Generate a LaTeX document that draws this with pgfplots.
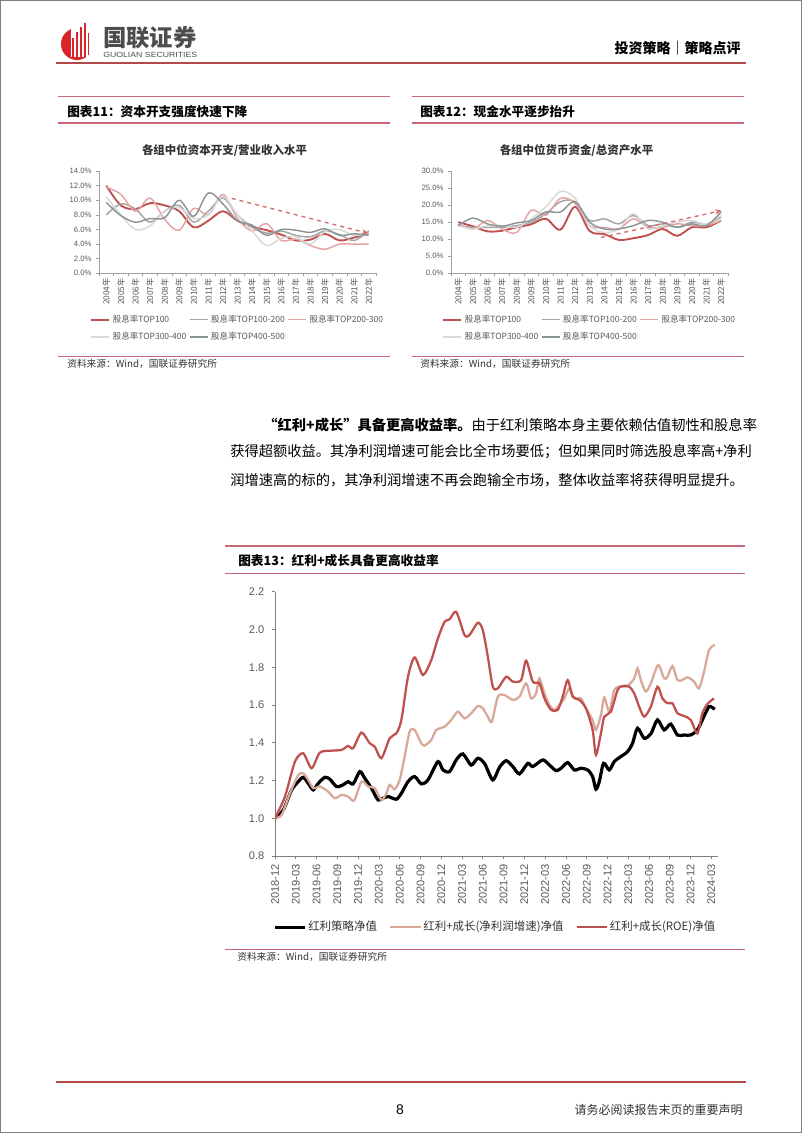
\documentclass[border=0pt]{standalone}
\usepackage{pgfplots}
\pgfplotsset{compat=1.18}
\usepackage{fontspec}
\setmainfont{Liberation Sans}
\newfontfamily\cjk{Noto Sans CJK SC}
\usetikzlibrary{arrows.meta}
\definecolor{hdrred}{HTML}{B5484B}
\definecolor{linepink}{HTML}{C86878}
\definecolor{bordergray}{HTML}{808080}
\definecolor{logored}{HTML}{D9262B}
\definecolor{logogray}{HTML}{4D4D4D}
\definecolor{txtgray}{HTML}{595959}
\definecolor{axgray}{HTML}{808080}
\definecolor{axlight}{HTML}{A0A0A0}
\definecolor{cred}{HTML}{C0504D}
\definecolor{ctan}{HTML}{D8A898}
\definecolor{sA}{HTML}{C0504D}
\definecolor{sB}{HTML}{A5A5A5}
\definecolor{sC}{HTML}{E6A3A3}
\definecolor{sD}{HTML}{D9D9D9}
\definecolor{sE}{HTML}{8C9696}
\definecolor{arr}{HTML}{D46A6A}
\pgfplotsset{smallchart/.style={
  scale only axis, width=207.75pt, height=76.7pt, anchor=south west,
  xmin=-0.5, xmax=18.5,
  axis lines=left, axis line style={-, draw=axlight, line width=0.6pt},
  tick align=outside, major tick length=2pt, minor tick length=2pt,
  tick style={draw=axlight, line width=0.5pt},
  xtick={0,...,18},
  xticklabels={2004年,2005年,2006年,2007年,2008年,2009年,2010年,2011年,2012年,2013年,2014年,2015年,2016年,2017年,2018年,2019年,2020年,2021年,2022年},
  major x tick style={draw=none},
  minor xtick={-0.5,0.5,...,18.5},
  xticklabel style={rotate=90, anchor=east, font=\cjk\fontsize{6.2}{6.2}\selectfont, text=txtgray, inner sep=1.5pt},
  yticklabel style={font=\fontsize{5.8}{6}\selectfont, text=txtgray},
  legend columns=3,
  legend style={draw=none, fill=none, font=\cjk\fontsize{6.4}{7}\selectfont, text=txtgray, inner sep=0pt, row sep=2pt,
    at={(-0.0325,-0.38)}, anchor=north west,
    /tikz/every even column/.append style={column sep=0pt}, cells={anchor=west}},
  legend image code/.code={\draw[#1] (0pt,0pt) -- (13.5pt,0pt);},
  every axis plot/.append style={smooth, tension=0.55, mark=none, line width=1.1pt},
}}
\begin{document}
\begin{tikzpicture}
\begin{scope}[x=0.75pt,y=-0.75pt]
\path[use as bounding box] (0,0) rectangle (802,1133);
\fill[white] (0,0) rectangle (802,1133);
\draw[bordergray, line width=0.75pt] (0.5,0.5) rectangle (801.5,1132.5);
% logo
\fill[logored] (77,44) circle (16);
\fill[white] (71,25) rectangle (96,57);
\fill[logored] (71.5,57) rectangle (73.5,38);
\fill[logored] (75.5,57) rectangle (77.5,32);
\fill[logored] (79.5,57) rectangle (81.5,27);
\fill[logored] (83.5,57) rectangle (85.5,23);
\fill[logored] (87.5,55) rectangle (89,33);
\node[anchor=west, inner sep=0pt, text=logogray] at (103,38) {\cjk\bfseries\fontsize{17.5}{18}\selectfont 国联证券};
\node[anchor=west, inner sep=0pt, text=logogray] at (103,54.5) {\resizebox{70.5pt}{3.9pt}{\fontsize{6}{6}\selectfont GUOLIAN SECURITIES}};
\node[anchor=east, inner sep=0pt] at (741,48) {\cjk\bfseries\fontsize{10.5}{11}\selectfont 投资策略｜策略点评};
\draw[hdrred, line width=1.4pt] (56,63) -- (746,63);
% chart 11 header
\draw[linepink, line width=0.9pt] (58,96.5) -- (390,96.5);
\node[anchor=west, inner sep=0pt] at (67,112) {\cjk\bfseries\fontsize{9.5}{10}\selectfont 图表11：资本开支强度快速下降};
\draw[linepink, line width=0.9pt] (58,123) -- (390,123);
\node[inner sep=0pt, text=black!80] at (224.5,151) {\cjk\bfseries\fontsize{8.6}{9}\selectfont 各组中位资本开支/营业收入水平};
\draw[linepink, line width=0.9pt] (58,356.7) -- (390,356.7);
\node[anchor=west, inner sep=0pt, text=black!80] at (67,364) {\cjk\fontsize{7.3}{8}\selectfont 资料来源：Wind，国联证券研究所};
% chart 12 header
\draw[linepink, line width=0.9pt] (412,96.5) -- (744,96.5);
\node[anchor=west, inner sep=0pt] at (420,112) {\cjk\bfseries\fontsize{9.5}{10}\selectfont 图表12：现金水平逐步抬升};
\draw[linepink, line width=0.9pt] (412,123) -- (744,123);
\node[inner sep=0pt, text=black!80] at (576.5,151) {\cjk\bfseries\fontsize{8.6}{9}\selectfont 各组中位货币资金/总资产水平};
\draw[linepink, line width=0.9pt] (412,356.7) -- (744,356.7);
\node[anchor=west, inner sep=0pt, text=black!80] at (420,364) {\cjk\fontsize{7.3}{8}\selectfont 资料来源：Wind，国联证券研究所};
% body text
\node[anchor=west, inner sep=0pt] at (263,425) {\cjk\fontsize{10.7}{12}\selectfont{\bfseries “红利+成长”具备更高收益率。}由于红利策略本身主要依赖估值韧性和股息率};
\node[anchor=west, inner sep=0pt] at (230,452) {\cjk\fontsize{10.7}{12}\selectfont 获得超额收益。其净利润增速可能会比全市场要低；但如果同时筛选股息率高+净利};
\node[anchor=west, inner sep=0pt] at (230,480) {\cjk\fontsize{10.7}{12}\selectfont 润增速高的标的，其净利润增速不再会跑输全市场，整体收益率将获得明显提升。};
% chart 13 header
\draw[linepink, line width=0.9pt] (225,546) -- (745,546);
\node[anchor=west, inner sep=0pt] at (238,561) {\cjk\bfseries\fontsize{9.5}{10}\selectfont 图表13：红利+成长具备更高收益率};
\draw[linepink, line width=0.9pt] (225,573.3) -- (745,573.3);
\draw[linepink, line width=0.9pt] (225,949.3) -- (745,949.3);
\node[anchor=west, inner sep=0pt, text=black!80] at (237,957) {\cjk\fontsize{7.3}{8}\selectfont 资料来源：Wind，国联证券研究所};
% footer
\draw[hdrred, line width=1.2pt] (56,1082) -- (746,1082);
\node[inner sep=0pt] at (400,1110) {\fontsize{10.5}{11}\selectfont 8};
\node[anchor=east, inner sep=0pt, text=black!80] at (743,1110) {\cjk\fontsize{9}{10}\selectfont 请务必阅读报告末页的重要声明};
\end{scope}

% chart 11
\begin{axis}[smallchart, at={(74.25pt,-204.975pt)}, ymin=0, ymax=14, ytick={0,2,4,6,8,10,12,14},
  yticklabel={\pgfmathprintnumber[fixed,fixed zerofill,precision=1,assume math mode=true]{\tick}\%}]
\addplot[sA, line width=1.4pt] coordinates {(0,12.0)(1,9.3)(2,8.8)(3,9.6)(4,9.3)(5,8.5)(6,6.3)(7,7.2)(8,8.5)(9,7.2)(10,6.4)(11,5.9)(12,5.3)(13,4.5)(14,4.6)(15,5.4)(16,4.5)(17,4.9)(18,5.5)};
\addlegendentry{股息率TOP100}
\addplot[sB] coordinates {(0,8.0)(1,9.5)(2,8.8)(3,7.0)(4,8.5)(5,9.3)(6,7.0)(7,8.5)(8,10.3)(9,8.0)(10,6.3)(11,5.5)(12,5.8)(13,5.2)(14,5.0)(15,5.8)(16,5.3)(17,4.5)(18,5.8)};
\addlegendentry{股息率TOP100-200}
\addplot[sC] coordinates {(0,11.8)(1,10.8)(2,8.5)(3,10.3)(4,7.4)(5,5.9)(6,8.9)(7,8.0)(8,10.8)(9,7.5)(10,5.8)(11,6.8)(12,4.5)(13,4.7)(14,3.8)(15,3.3)(16,4.0)(17,4.0)(18,4.0)};
\addlegendentry{股息率TOP200-300}
\addplot[sD] coordinates {(0,10.5)(1,8.0)(2,6.0)(3,6.5)(4,8.5)(5,9.0)(6,7.5)(7,8.0)(8,10.5)(9,8.0)(10,5.8)(11,3.8)(12,4.8)(13,5.0)(14,4.0)(15,5.7)(16,6.0)(17,5.2)(18,5.5)};
\addlegendentry{股息率TOP300-400}
\addplot[sE] coordinates {(0,9.7)(1,7.9)(2,7.0)(3,7.5)(4,7.6)(5,10.0)(6,7.8)(7,11.0)(8,9.5)(9,7.2)(10,6.6)(11,5.2)(12,6.0)(13,5.9)(14,5.6)(15,6.1)(16,5.2)(17,5.4)(18,5.2)};
\addlegendentry{股息率TOP400-500}
\addplot[arr, dashed, line width=1pt, -{Stealth[length=5pt,width=4pt]}, forget plot] coordinates {(8.6,10.26)(17.99,5.47)};
\end{axis}

% chart 12
\begin{axis}[smallchart, width=208pt, at={(338.25pt,-204.975pt)}, ymin=0, ymax=30, ytick={0,5,10,15,20,25,30},
  yticklabel={\pgfmathprintnumber[fixed,fixed zerofill,precision=1,assume math mode=true]{\tick}\%}]
\addplot[sA, line width=1.4pt] coordinates {(0,15.0)(1,13.8)(2,12.3)(3,12.5)(4,13.5)(5,14.4)(6,16.0)(7,12.8)(8,19.5)(9,12.4)(10,11.5)(11,9.8)(12,10.3)(13,11.2)(14,13.0)(15,11.0)(16,13.5)(17,13.5)(18,15.5)};
\addlegendentry{股息率TOP100}
\addplot[sB] coordinates {(0,14.0)(1,13.5)(2,13.5)(3,13.5)(4,14.0)(5,15.0)(6,17.5)(7,21.0)(8,21.0)(9,15.5)(10,16.0)(11,14.5)(12,17.0)(13,14.0)(14,14.5)(15,13.5)(16,15.0)(17,14.5)(18,16.5)};
\addlegendentry{股息率TOP100-200}
\addplot[sC] coordinates {(0,14.5)(1,13.0)(2,15.5)(3,13.0)(4,12.0)(5,18.5)(6,17.0)(7,22.0)(8,20.5)(9,14.0)(10,13.5)(11,13.0)(12,16.0)(13,13.5)(14,13.5)(15,14.5)(16,14.0)(17,14.0)(18,15.5)};
\addlegendentry{股息率TOP200-300}
\addplot[sD] coordinates {(0,14.0)(1,13.0)(2,14.0)(3,14.0)(4,13.5)(5,16.0)(6,19.5)(7,24.0)(8,22.0)(9,14.0)(10,12.0)(11,13.0)(12,17.5)(13,13.0)(14,14.0)(15,15.0)(16,15.5)(17,14.5)(18,17.0)};
\addlegendentry{股息率TOP300-400}
\addplot[sE] coordinates {(0,14.0)(1,16.2)(2,14.5)(3,13.8)(4,14.8)(5,15.5)(6,18.0)(7,18.0)(8,21.0)(9,15.0)(10,13.0)(11,13.0)(12,14.0)(13,15.5)(14,15.0)(15,13.5)(16,14.5)(17,14.0)(18,18.0)};
\addlegendentry{股息率TOP400-500}
\addplot[arr, dashed, line width=1pt, -{Stealth[length=5pt,width=4pt]}, forget plot] coordinates {(9.77,10.5)(18.04,18.4)};
\end{axis}

% chart 13
\begin{axis}[at={(206.25pt,-642pt)}, anchor=south west, scale only axis, width=332pt, height=198.2pt,
  xmin=0, xmax=63.9, ymin=0.8, ymax=2.2,
  axis lines=left, axis line style={-, draw=axgray, line width=0.75pt},
  tick align=outside, major tick length=2.5pt, tick style={draw=axgray, line width=0.6pt},
  ytick={0.8,1.0,1.2,1.4,1.6,1.8,2.0,2.2},
  yticklabel={\pgfmathprintnumber[fixed,fixed zerofill,precision=1,assume math mode=true]{\tick}},
  yticklabel style={font=\fontsize{8.3}{9}\selectfont, text=txtgray, xshift=-2pt},
  xtick={0,3,...,63},
  xticklabels={2018-12,2019-03,2019-06,2019-09,2019-12,2020-03,2020-06,2020-09,2020-12,2021-03,2021-06,2021-09,2021-12,2022-03,2022-06,2022-09,2022-12,2023-03,2023-06,2023-09,2023-12,2024-03},
  xticklabel style={rotate=90, anchor=east, font=\fontsize{8.3}{9}\selectfont, text=txtgray},
  legend columns=3,
  legend style={draw=none, fill=none, inner sep=0pt, font=\cjk\fontsize{8.6}{9}\selectfont, text=black!80,
    at={(-0.005,-0.269)}, anchor=west, cells={anchor=west}, nodes={inner sep=1pt},
    /tikz/every even column/.append style={column sep=8pt}},
  legend image code/.code={\draw[#1] (0pt,0pt) -- (23pt,0pt);},
  every axis plot/.append style={smooth, tension=0.45, mark=none}]
\addplot[black, line width=2.4pt] coordinates {(0,1.000)(1.20,1.044)(2.40,1.150)(3.36,1.194)(4.08,1.217)(4.80,1.185)(5.52,1.150)(6.24,1.185)(7.20,1.217)(7.92,1.207)(8.88,1.168)(9.84,1.177)(10.56,1.194)(11.28,1.182)(12.24,1.247)(12.96,1.212)(13.92,1.159)(14.88,1.097)(15.60,1.106)(16.32,1.115)(17.52,1.101)(18.24,1.132)(19.20,1.194)(20.16,1.221)(21.12,1.182)(22.08,1.203)(23.52,1.300)(24.24,1.256)(25.20,1.247)(26.16,1.309)(27.12,1.341)(28.32,1.282)(29.28,1.318)(30.24,1.291)(31.44,1.203)(32.40,1.270)(33.37,1.305)(34.33,1.274)(35.29,1.235)(36.49,1.291)(37.21,1.274)(38.65,1.309)(39.61,1.282)(40.57,1.252)(41.29,1.265)(42.25,1.295)(43.21,1.256)(44.17,1.265)(45.13,1.256)(45.85,1.221)(46.33,1.154)(46.81,1.194)(47.43,1.291)(48.25,1.256)(48.97,1.300)(49.93,1.327)(50.89,1.353)(51.61,1.397)(52.33,1.477)(53.29,1.424)(54.25,1.447)(55.21,1.521)(56.17,1.468)(57.13,1.499)(58.09,1.441)(59.05,1.441)(60.01,1.441)(60.97,1.468)(61.69,1.521)(62.65,1.591)(63.47,1.577)};
\addlegendentry{红利策略净值}
\addplot[ctan, line width=1.7pt] coordinates {(0,1.000)(0.96,1.018)(2.16,1.132)(3.36,1.229)(4.08,1.238)(4.80,1.203)(5.52,1.159)(6.48,1.168)(7.68,1.141)(8.64,1.106)(9.60,1.124)(10.56,1.115)(11.43,1.094)(12.48,1.194)(13.44,1.168)(14.40,1.159)(15.36,1.097)(16.08,1.132)(16.56,1.177)(17.28,1.154)(18.00,1.203)(18.72,1.327)(19.44,1.459)(20.16,1.468)(21.12,1.397)(21.60,1.385)(22.56,1.415)(23.28,1.468)(24.48,1.485)(25.44,1.521)(26.40,1.565)(27.36,1.529)(28.32,1.556)(29.28,1.595)(30.00,1.582)(30.72,1.538)(31.30,1.512)(32.17,1.644)(33.13,1.653)(34.33,1.627)(35.29,1.644)(36.25,1.715)(36.97,1.635)(37.69,1.662)(38.17,1.741)(38.89,1.662)(39.61,1.600)(40.33,1.574)(41.05,1.600)(41.77,1.635)(42.49,1.688)(43.21,1.635)(44.17,1.635)(44.89,1.582)(45.85,1.521)(46.33,1.468)(47.05,1.547)(47.53,1.641)(48.25,1.565)(48.97,1.679)(49.69,1.697)(50.89,1.701)(51.85,1.741)(52.33,1.794)(52.81,1.732)(53.53,1.671)(54.25,1.715)(55.30,1.812)(56.17,1.741)(56.65,1.750)(57.37,1.806)(58.09,1.732)(58.81,1.732)(59.53,1.747)(60.49,1.724)(61.21,1.688)(61.93,1.776)(62.65,1.891)(63.47,1.918)};
\addlegendentry{红利+成长(净利润增速)净值}
\addplot[cred, line width=1.7pt] coordinates {(0,1.000)(1.44,1.115)(2.88,1.300)(4.08,1.344)(5.28,1.265)(6.48,1.348)(8.16,1.358)(9.60,1.362)(10.56,1.383)(11.28,1.371)(12.48,1.454)(13.68,1.397)(14.40,1.379)(15.36,1.318)(16.56,1.424)(17.52,1.450)(18.24,1.521)(19.20,1.750)(20.16,1.852)(21.36,1.759)(22.56,1.838)(23.52,1.953)(24.48,2.041)(25.20,2.054)(26.16,2.094)(27.36,1.971)(28.08,1.971)(29.28,2.036)(30.00,1.997)(30.72,1.856)(31.44,1.697)(32.17,1.688)(33.37,1.750)(34.33,1.724)(35.53,1.732)(36.25,1.835)(37.21,1.724)(38.17,1.715)(38.89,1.635)(39.85,1.574)(40.81,1.574)(41.53,1.644)(42.25,1.732)(42.97,1.644)(43.93,1.627)(44.89,1.582)(45.85,1.468)(46.33,1.335)(47.05,1.450)(47.53,1.538)(48.49,1.565)(49.45,1.679)(50.17,1.701)(51.13,1.697)(51.85,1.662)(52.57,1.591)(53.29,1.538)(54.25,1.591)(55.21,1.697)(55.93,1.635)(56.65,1.609)(57.37,1.609)(58.09,1.556)(59.05,1.542)(60.01,1.521)(60.97,1.450)(61.69,1.556)(62.41,1.605)(63.37,1.635)};
\addlegendentry{红利+成长(ROE)净值}
\end{axis}
\end{tikzpicture}
\end{document}
